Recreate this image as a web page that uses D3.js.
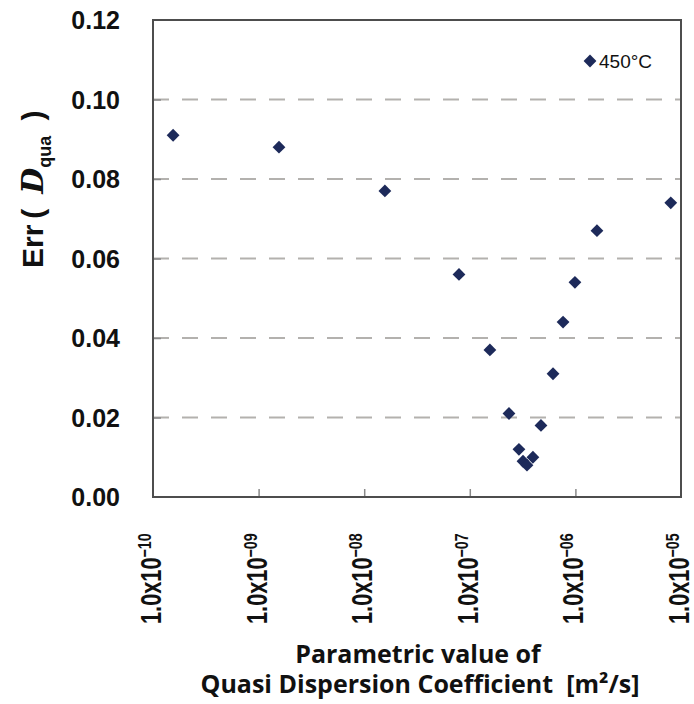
<!DOCTYPE html>
<html>
<head>
<meta charset="utf-8">
<script src="https://cdn.jsdelivr.net/npm/d3@7"></script>
<style>
  body { margin: 0; background: #fff; }
  text { fill: #111; }
</style>
</head>
<body>
<div id="chart"></div>
<script>
var w = 694,
    h = 704;

var margin = {top: 20, right: 13, bottom: 207, left: 153};

// data
var seriesName = "450\u00b0C";
var dqua = [1.55e-10, 1.56e-9, 1.57e-8, 7.9e-8, 1.55e-7, 2.35e-7, 2.92e-7, 3.19e-7,
            3.48e-7, 3.96e-7, 4.72e-7, 6.14e-7, 7.64e-7, 9.9e-7, 1.6e-6, 8.0e-6];
var err  = [0.091, 0.088, 0.077, 0.056, 0.037, 0.021, 0.012, 0.009,
            0.008, 0.010, 0.018, 0.031, 0.044, 0.054, 0.067, 0.074];

var yTicks = [0, 0.02, 0.04, 0.06, 0.08, 0.10, 0.12];
var xTicks = [1e-10, 1e-9, 1e-8, 1e-7, 1e-6, 1e-5];
var xTickBase = "1.0x10";
var xTickExp = ["\u221210", "\u221209", "\u221208", "\u221207", "\u221206", "\u221205"];

var navy = "#1d2a5a";

var x = d3.scaleLog().domain([1e-10, 1e-5]).range([margin.left, w - margin.right]),
    y = d3.scaleLinear().domain([0, 0.12]).range([h - margin.bottom, margin.top]);

var svg = d3.select("#chart")
    .append("svg")
    .attr("width", w)
    .attr("height", h)
    .style("font-family", "'Liberation Sans', Arial, sans-serif");

// dashed gridlines
svg.append("g")
   .selectAll("line")
   .data(yTicks.slice(1, -1))
   .enter()
   .append("line")
   .attr("x1", x.range()[0]).attr("x2", x.range()[1])
   .attr("y1", function(d) { return y(d); })
   .attr("y2", function(d) { return y(d); })
   .attr("stroke", "#b3b1ae")
   .attr("stroke-width", 2)
   .attr("stroke-dasharray", "16,13");

// inner ticks
var yAxis = svg.append("g")
    .attr("transform", "translate(" + margin.left + ",0)")
    .call(d3.axisRight(y).tickValues(yTicks.slice(1, -1)).tickSize(8).tickFormat(""));
var xAxis = svg.append("g")
    .attr("transform", "translate(0," + (h - margin.bottom) + ")")
    .call(d3.axisTop(x).tickValues(xTicks.slice(1, -1)).tickSize(8).tickFormat(""));
svg.selectAll(".domain").remove();
svg.selectAll(".tick line").attr("stroke", "#8a8a8a").attr("stroke-width", 1.5);

// frame
svg.append("rect")
   .attr("x", x.range()[0])
   .attr("y", y.range()[1])
   .attr("width", x.range()[1] - x.range()[0])
   .attr("height", y.range()[0] - y.range()[1])
   .attr("fill", "none")
   .attr("stroke", "#4d4d4d")
   .attr("stroke-width", 2);

// y tick labels
svg.append("g")
   .selectAll("text")
   .data(yTicks)
   .enter()
   .append("text")
   .attr("x", 120)
   .attr("y", function(d) { return y(d); })
   .attr("dy", "0.36em")
   .attr("text-anchor", "end")
   .style("font-size", "25px")
   .style("font-weight", "bold")
   .text(function(d) { return d3.format(".2f")(d); });

// x tick labels, rotated and squeezed, with superscript exponent
var xl = svg.append("g")
   .selectAll("text")
   .data(xTicks)
   .enter()
   .append("text")
   .attr("transform", function(d) { return "translate(" + (x(d) + 8) + ",624) rotate(-90) scale(0.75,1)"; })
   .style("font-weight", "bold")
   .style("font-size", "29px");
xl.append("tspan").text(xTickBase);
xl.append("tspan")
  .attr("dy", -10)
  .style("font-size", "19px")
  .text(function(d, i) { return xTickExp[i]; });

// points
svg.append("g")
   .selectAll("path")
   .data(dqua)
   .enter()
   .append("path")
   .attr("d", d3.symbol().type(d3.symbolSquare).size(82))
   .attr("transform", function(d, i) { return "translate(" + x(d) + "," + y(err[i]) + ") rotate(45)"; })
   .attr("fill", navy);

// legend
var legend = svg.append("g").attr("transform", "translate(590,61)");
legend.append("path")
      .attr("d", d3.symbol().type(d3.symbolSquare).size(82))
      .attr("transform", "rotate(45)")
      .attr("fill", navy);
legend.append("text")
      .attr("x", 9)
      .attr("y", 7)
      .style("font-size", "19px")
      .text(seriesName);

// y title
var yt = svg.append("text")
    .attr("transform", "translate(43,268) rotate(-90)")
    .style("font-size", "30px")
    .style("font-weight", "bold");
yt.append("tspan").text("Err\u2009(\u2002");
yt.append("tspan").style("font-family", "'DejaVu Serif', serif").style("font-style", "italic").text("D");
yt.append("tspan").attr("dy", 8).style("font-size", "18px").text("qua");
yt.append("tspan").attr("dy", -8).text("\u2002)");

// x title
var xt = svg.append("text")
    .attr("text-anchor", "middle")
    .style("font-family", "'Open Sans', 'Noto Sans', sans-serif")
    .style("font-weight", "bold")
    .style("font-size", "25px");
xt.append("tspan").attr("x", 418).attr("y", 663).text("Parametric value of");
xt.append("tspan").attr("x", 420).attr("y", 693).text("Quasi Dispersion Coefficient\u00a0\u00a0[m\u00b2/s]");
</script>
</body>
</html>
